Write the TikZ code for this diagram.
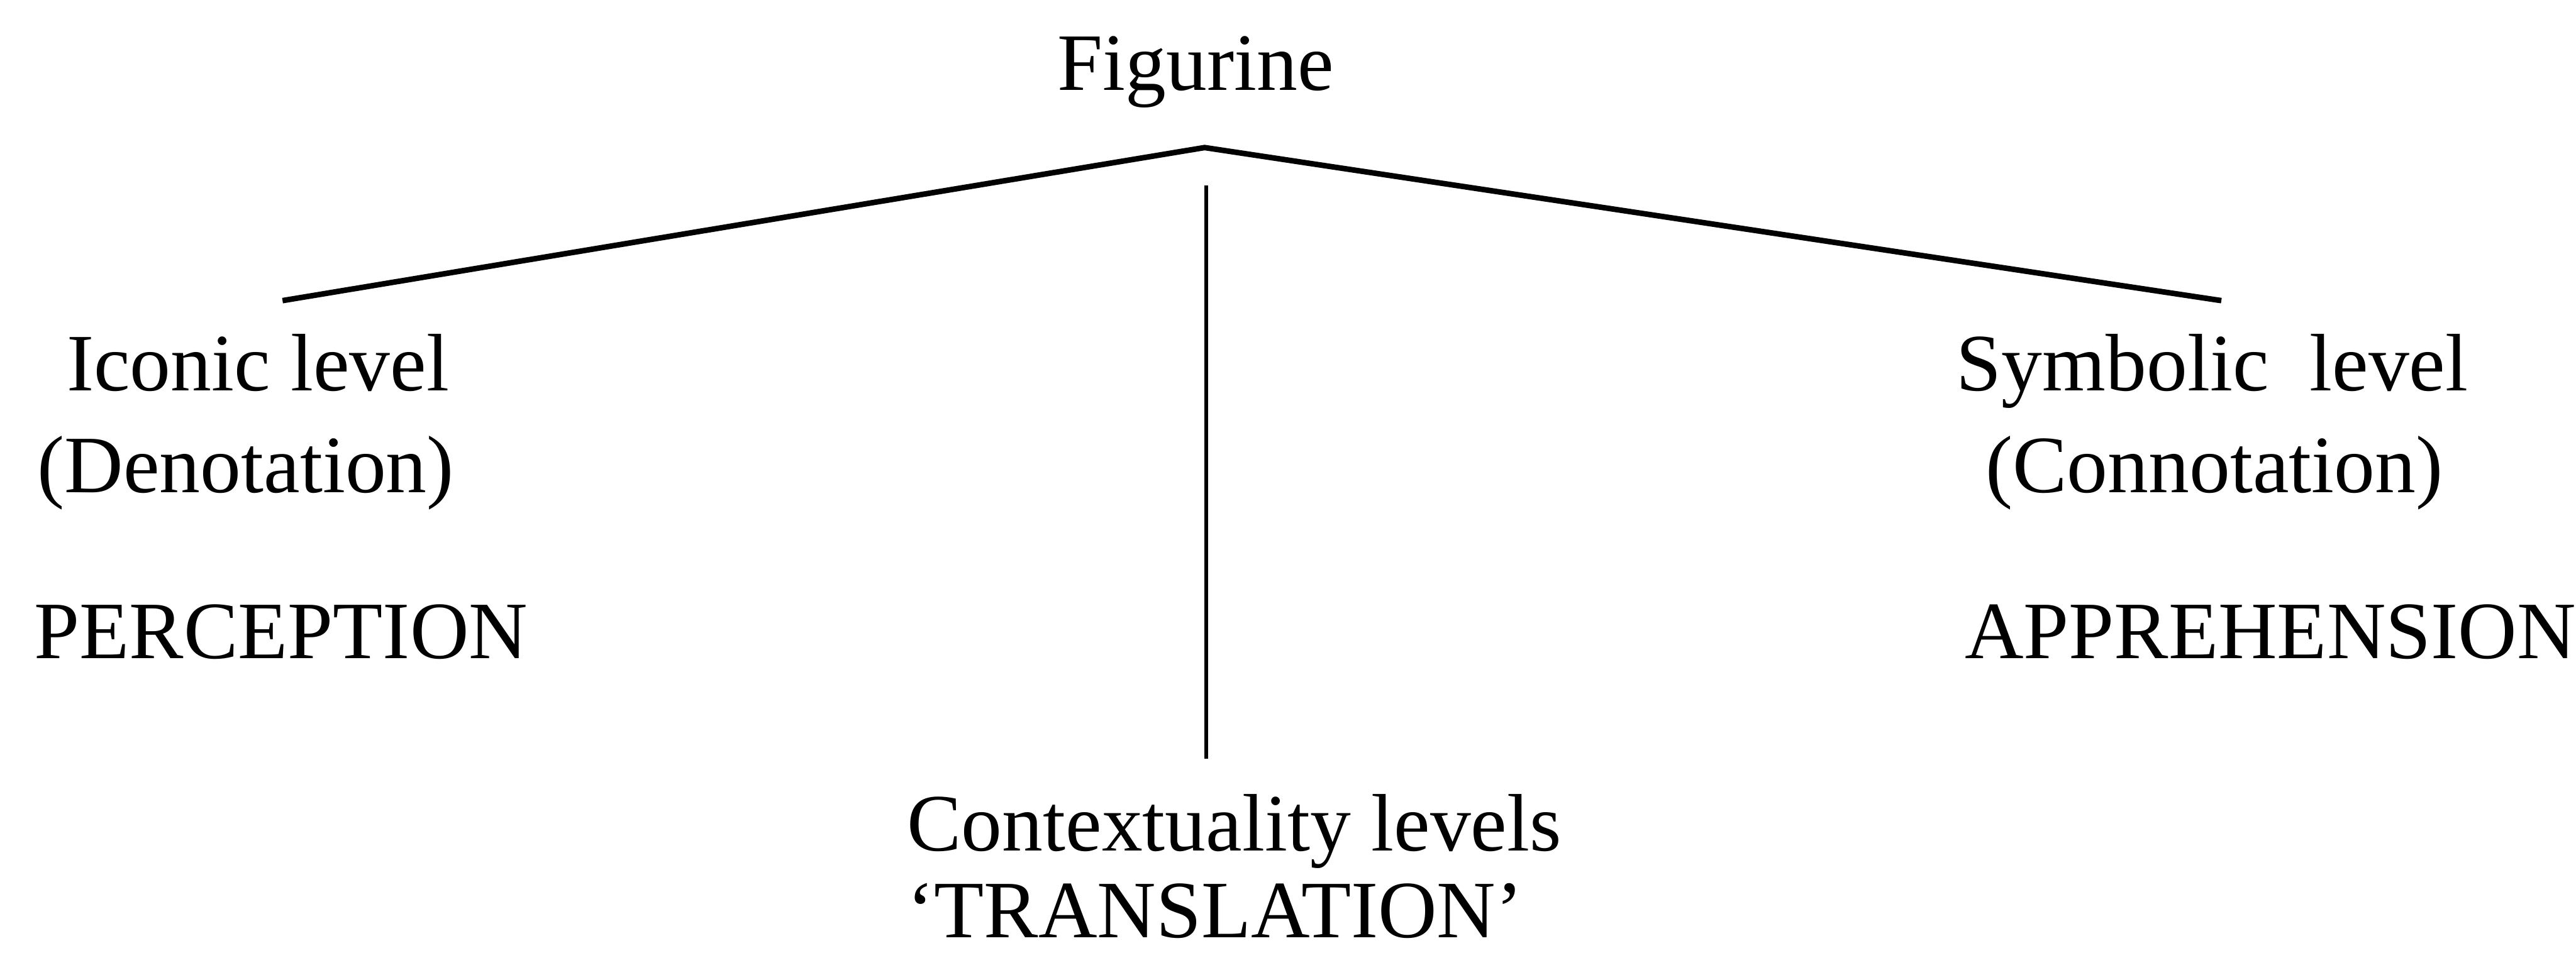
\documentclass[tikz,border=0pt]{standalone}
\usepackage{fontspec}
\setmainfont{Liberation Serif}

\begin{document}
\begin{tikzpicture}[x=0.3325cm,y=-0.3325cm,
  lbl/.style={inner sep=0pt,anchor=base west,font=\fontsize{14}{17}\selectfont},
  branch/.style={line width=0.95pt},
  stem/.style={line width=0.6pt}]
\useasboundingbox (0,0) rectangle (46.77,17.39);
% top
\node[lbl] (fig) at (19.18,1.64) {Figurine};
\coordinate (apex) at (21.87,2.68);
\coordinate (lend) at (5.13,5.46);
\coordinate (rend) at (40.33,5.46);
\coordinate (vtop) at (21.90,3.37);
\coordinate (vbot) at (21.90,13.78);
% left branch
\node[lbl] (icon) at (1.19,7.10) {Iconic level};
\node[lbl] (deno) at (0.66,8.95) {(Denotation)};
\node[lbl] (perc) at (0.60,11.96) {PERCEPTION};
% right branch
\node[lbl] (symb) at (35.50,7.10) {Symbolic~~level};
\node[lbl] (conn) at (36.03,8.95) {(Connotation)};
\node[lbl] (appr) at (35.65,11.96) {APPREHENSION};
% middle
\node[lbl] (ctxt) at (16.45,15.45) {Contextuality levels};
\node[lbl] (trans) at (16.45,17.03) {‘TRANSLATION’};
\draw[branch] (lend) -- (apex) -- (rend);
\draw[stem] (vtop) -- (vbot);
\end{tikzpicture}
\end{document}
